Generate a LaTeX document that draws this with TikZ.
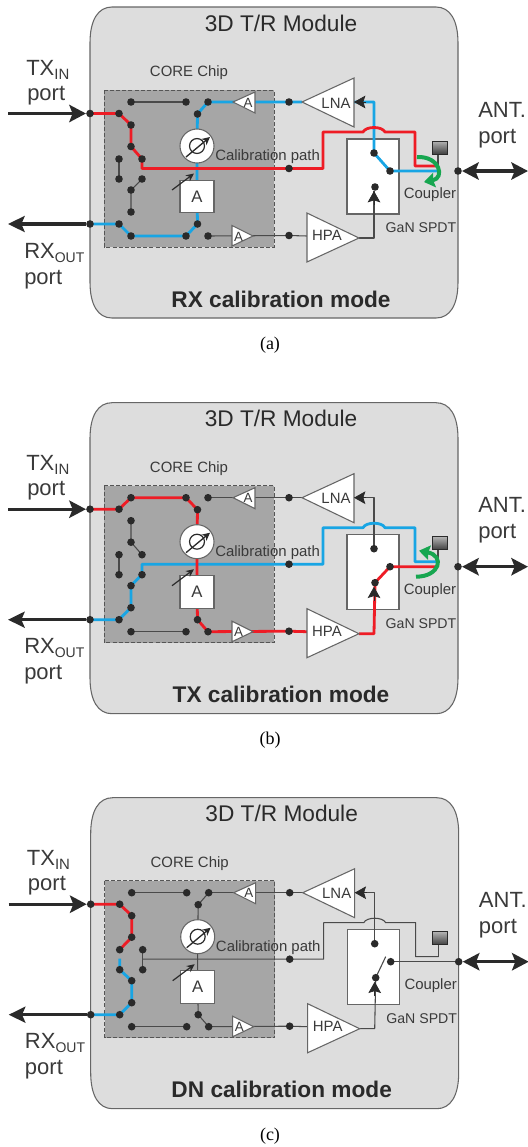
\documentclass[tikz,border=0pt]{standalone}
\usepackage{fontspec}
\setmainfont{Liberation Sans}
\newfontfamily\capfont{Liberation Serif}
\usetikzlibrary{arrows.meta}
\definecolor{modfill}{HTML}{DDDDDD}
\definecolor{modline}{HTML}{666666}
\definecolor{chipfill}{HTML}{A6A6A6}
\definecolor{rfred}{HTML}{EE1C25}
\definecolor{rfblue}{HTML}{18A5E4}
\definecolor{rfgreen}{HTML}{17A650}
\definecolor{ink}{HTML}{2A2A2A}
\definecolor{txt}{HTML}{3A3A3A}
\newcommand{\fs}[1]{\fontsize{#1}{#1}\selectfont}
\tikzset{
  modulebox/.style={draw=modline,fill=modfill,line width=0.8pt},
  chipbox/.style={draw=ink!80,fill=chipfill,line width=0.6pt,dash pattern=on 3pt off 1.6pt},
  whitebox/.style={draw=modline,fill=white,line width=0.8pt},
  ampshape/.style={draw=modline,fill=white,line width=0.8pt,line join=miter},
  dotn/.style={circle,fill=ink,draw=none,inner sep=0pt,minimum size=5.7pt},
  redroute/.style={draw=rfred,line width=2.1pt,line join=round},
  blueroute/.style={draw=rfblue,line width=2.1pt,line join=round},
  darkroute/.style={draw=ink!85,line width=0.8pt,line join=round},
  bigarrow/.style={draw=ink,line width=2.3pt},
  headdark/.style={draw=ink,line width=0.6pt,-{Stealth[length=8.5pt,width=9.5pt,inset=1.5pt]}},
  greenarrow/.style={draw=rfgreen,line width=3pt,-{Stealth[length=8pt,width=11pt,inset=1pt]}},
  lab/.style={inner sep=0pt,text=txt},
  biglab/.style={lab,font=\fs{16.5},anchor=base west},
  smalllab/.style={lab,font=\fs{11.2}},
  titlelab/.style={inner sep=0pt,text=ink,font=\fs{17}},
  modelab/.style={inner sep=0pt,text=ink,font=\bfseries\fs{17}},
  caplab/.style={inner sep=0pt,text=black,font=\capfont\fs{13.5}},
}
\newcommand{\panelpoints}{%
  \coordinate (T) at (90,113.5);
  \coordinate (R) at (90,224);
  \coordinate (ANT) at (458,171);
  \coordinate (a1) at (119,113.5);
  \coordinate (a2) at (131,125);
  \coordinate (a3) at (131,146.5);
  \coordinate (a4) at (142,159);
  \coordinate (a5) at (119,159);
  \coordinate (a6) at (119,179);
  \coordinate (a6s) at (119,168);
  \coordinate (a7) at (142,179);
  \coordinate (a8) at (131,190);
  \coordinate (a9) at (131,212);
  \coordinate (a10) at (119,224);
  \coordinate (t1) at (131,102);
  \coordinate (t2) at (186,102);
  \coordinate (t3) at (197.5,114);
  \coordinate (t4) at (208,102);
  \coordinate (b1) at (131,236);
  \coordinate (b2) at (186,236);
  \coordinate (b3) at (197.5,224);
  \coordinate (b4) at (208,236);
  \coordinate (pc) at (197,146);
  \coordinate (jn) at (197,168.5);
  \coordinate (cl) at (142,168.5);
  \coordinate (abox) at (197,196.5);
  \coordinate (ct) at (289,102);
  \coordinate (cm) at (289,168.5);
  \coordinate (cb) at (289,235.5);
  \coordinate (lnaIn) at (354,102);
  \coordinate (lnaOut) at (302,102);
  \coordinate (lnaJ) at (374,102);
  \coordinate (hpaIn) at (307,236);
  \coordinate (hpaOut) at (359,238);
  \coordinate (hpaJ) at (374,238);
  \coordinate (harrowS) at (374,205);
  \coordinate (harrowE) at (374,191);
  \coordinate (larrowS) at (366,102);
  \coordinate (s1) at (374,153);
  \coordinate (s2) at (390,171);
  \coordinate (s3) at (375,187);
  \coordinate (sw) at (385,166);
  \coordinate (cpl) at (438,171);
  \coordinate (cplu) at (438,166);
  \coordinate (cr1) at (323,168.5);
  \coordinate (cr2) at (323,132);
  \coordinate (by1) at (363,132);
  \coordinate (by2) at (385,132);
  \coordinate (cr3) at (415,132);
  \coordinate (cr4) at (415,166);
  \coordinate (txS) at (8,113.5);
  \coordinate (rxE) at (8,224);
  \coordinate (antE) at (528,171);
}
\newcommand{\calroute}{(cm) -- (cr1) -- (cr2) -- (by1) .. controls (366,126) and (382,126) .. (by2) -- (cr3) -- (cr4) -- (cplu)}
\newcommand{\panel}[5]{%
\begin{scope}[shift={(#3,#2)},name prefix=#1-]
  \panelpoints
  \draw[modulebox] (90,43) .. controls (90,20) and (98,7) .. (112,7) -- (436,7)
    .. controls (450,7) and (458,20) .. (458,43) -- (458,282)
    .. controls (458,305) and (450,318) .. (436,318) -- (112,318)
    .. controls (98,318) and (90,305) .. (90,282) -- cycle;
  \draw[chipbox] (104,90) rectangle (274,247);
  \draw[whitebox] (347,139) rectangle (399,214);
  \node[titlelab] (title) at (281,23) {3D T/R Module};
  \node[smalllab] (corelab) at (189,73) {CORE Chip};
  \node[modelab] (mode) at (281,299) {#4};
  \node[biglab] (txlab) at (26,75) {TX{\fs{11.2}\raisebox{-3pt}{IN}}};
  \node[biglab] (txport) at (27,100) {port};
  \node[biglab] (rxlab) at (24,258) {RX{\fs{10.5}\raisebox{-3pt}{OUT}}};
  \node[biglab] (rxport) at (24,284) {port};
  \node[biglab] (antlab) at (478,117) {ANT.};
  \node[biglab] (antport) at (478,143) {port};
  \node[smalllab,anchor=west] (callab) at (215,157) {Calibration path};
  \node[smalllab] (cpllab) at (430,195) {Coupler};
  \node[smalllab,font=\fs{10.6}] (ganlab) at (421,228) {GaN SPDT};
  \draw[darkroute] (cplu) -- (438,150);
  #5
  \draw[ampshape] (233,102) -- (255,92) -- (255,113) -- cycle;
  \draw[ampshape] (253,236) -- (232,225.5) -- (232,246) -- cycle;
  \draw[ampshape] (302,102) -- (354,78) -- (354,127) -- cycle;
  \draw[ampshape] (359,238) -- (307,213) -- (307,262) -- cycle;
  \node[smalllab,font=\fs{10}] (ampa) at (248,102.5) {A};
  \node[smalllab,font=\fs{10}] (ampb) at (238.5,236.5) {A};
  \node[smalllab] (lnalab) at (336,103) {LNA};
  \node[smalllab] (hpalab) at (327,235.5) {HPA};
  \node[circle,draw=modline,fill=white,line width=0.8pt,minimum size=25.5pt,inner sep=0pt] (phase) at (pc) {};
  \draw[ink,line width=0.9pt] (pc) circle (5.6pt);
  \draw[ink,line width=1pt,-{Stealth[length=6pt,width=6pt]}] (186,157) -- (210,137);
  \node[draw=modline,fill=white,line width=0.8pt,minimum width=25.5pt,minimum height=24.5pt,inner sep=0pt,font=\fs{12.5},text=txt] (abx) at (abox) {A};
  \draw[ink,line width=0.9pt,-{Stealth[length=6pt,width=5.5pt]}] (172,190) -- (194,173.5);
  \shade[top color=black!30,bottom color=black!75,draw=ink,line width=0.5pt] (432,141) rectangle (447,154);
  \draw[headdark] (larrowS) -- (lnaIn);
  \draw[headdark] (harrowS) -- (harrowE);
  \foreach \n in {T,R,ANT,a1,a2,a3,a4,a5,a6,a7,a8,a9,a10,t1,t2,t3,t4,b1,b2,b3,b4,ct,cm,cb,s1,s2,s3}
    \node[dotn] (d\n) at (\n) {};
  \draw[bigarrow,-{Stealth[length=12.5pt,width=13pt,inset=2.5pt]}] (txS) -- (dT);
  \draw[bigarrow,-{Stealth[length=12.5pt,width=12pt,inset=2.5pt]}] (dR) -- (rxE);
  \draw[bigarrow,{Stealth[length=12.5pt,width=13pt,inset=2.5pt]}-{Stealth[length=12.5pt,width=13pt,inset=2.5pt]}] (dANT) -- (antE);
\end{scope}}
\begin{document}
\begin{tikzpicture}[x=0.75pt,y=-0.75pt]
\useasboundingbox (0,0) rectangle (528,1147);
\fill[white] (0,0) rectangle (528,1147);
\panel{pa}{0}{0}{RX calibration mode}{%
  \draw[darkroute] (t1) -- (t2);
  \draw[darkroute] (a5) -- (a6);
  \draw[darkroute] (a7) -- (a8) -- (a9);
  \draw[darkroute] (b4) -- (cb) -- (hpaIn);
  \draw[darkroute] (hpaOut) -- (hpaJ) -- (harrowE);
  \draw[blueroute] (lnaOut) -- (ct) -- (t4) -- (t3) -- (pc) -- (jn) -- (abox) -- (b3) -- (b2) -- (b1) -- (a10) -- (R);
  \draw[blueroute] (lnaIn) -- (lnaJ) -- (s1) -- (s2) -- (cpl);
  \draw[redroute] (T) -- (a1) -- (a2) -- (a3) -- (a4) -- (cl) -- (jn) -- \calroute;
  \draw[greenarrow] (417,157) .. controls (440,156) and (445,178) .. (424,182);
}
\panel{pb}{395.7}{0}{TX calibration mode}{%
  \draw[darkroute] (a2) -- (a3) -- (a4);
  \draw[darkroute] (a5) -- (a6);
  \draw[darkroute] (b1) -- (b2);
  \draw[darkroute] (t4) -- (ct) -- (lnaOut);
  \draw[darkroute] (s1) -- (lnaJ) -- (lnaIn);
  \draw[blueroute] (R) -- (a10) -- (a9) -- (a8) -- (a7) -- (cl) -- (jn) -- \calroute;
  \draw[redroute] (T) -- (a1) -- (t1) -- (t2) -- (t3) -- (pc) -- (abox) -- (b3) -- (b4) -- (cb) -- (hpaIn);
  \draw[redroute] (hpaOut) -- (hpaJ) -- (s3) -- (s2) -- (cpl);
  \draw[greenarrow] (416,181) .. controls (440,181) and (445,160) .. (419,155);
}
\panel{pc}{790.7}{0.7}{DN calibration mode}{%
  \draw[darkroute] (a4) -- (a7);
  \draw[darkroute] (cl) -- (jn) -- \calroute;
  \draw[darkroute] (t1) -- (t2);
  \draw[darkroute] (t4) -- (t3) -- (pc) -- (abox) -- (b3) -- (b4) -- (cb) -- (hpaIn);
  \draw[darkroute] (b1) -- (b2);
  \draw[darkroute] (t4) -- (ct) -- (lnaOut);
  \draw[darkroute] (s1) -- (lnaJ) -- (lnaIn);
  \draw[darkroute] (hpaOut) -- (hpaJ) -- (s3) -- (sw);
  \draw[darkroute] (s2) -- (ANT);
  \draw[redroute] (T) -- (a1) -- (a2) -- (a3) -- (a5);
  \draw[blueroute] (a6s) -- (a6) -- (a8) -- (a9) -- (a10) -- (R);
}
\node[caplab] (capa) at (270,345) {(a)};
\node[caplab] (capb) at (270,740) {(b)};
\node[caplab] (capc) at (270,1136) {(c)};
\end{tikzpicture}
\end{document}
